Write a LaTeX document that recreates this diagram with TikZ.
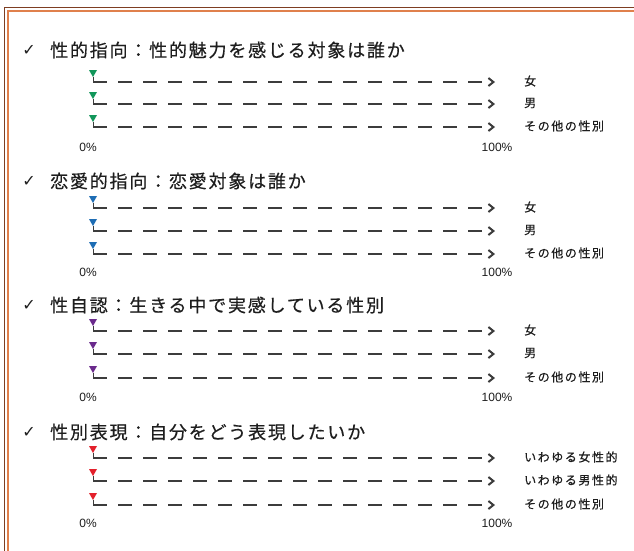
\documentclass[tikz,border=0pt]{standalone}
\usepackage{fontspec}
\usetikzlibrary{arrows.meta}
\setmainfont{Liberation Sans}
\newfontfamily\jphead[LetterSpace=10,FakeBold=0.5]{Noto Sans CJK JP}
\newfontfamily\jplab[LetterSpace=13,FakeBold=0.4]{Noto Sans CJK JP}
\newfontfamily\symf{DejaVu Sans}
\definecolor{ink}{HTML}{1E1E1E}
\definecolor{dashgrey}{HTML}{3C3C3C}
\definecolor{mkgreen}{HTML}{12965A}
\definecolor{mkblue}{HTML}{1E6DB4}
\definecolor{mkpurple}{HTML}{6A2A8C}
\definecolor{mkred}{HTML}{E3202B}
\definecolor{framedark}{HTML}{7E3E22}
\definecolor{frameorange}{HTML}{E0804C}
\begin{document}
\begin{tikzpicture}[x=1pt,y=-1pt,
  heading/.style={anchor=west,inner sep=0pt,text=ink,font=\jphead\fontsize{18}{20}\selectfont},
  checkmark/.style={inner sep=0pt,text=ink,font=\symf\fontsize{16}{18}\selectfont},
  scalelab/.style={inner sep=0pt,text=ink,font=\fontsize{12}{14}\selectfont},
  optlab/.style={anchor=west,inner sep=0pt,text=ink,font=\jplab\fontsize{12}{14}\selectfont},
  dashline/.style={draw=dashgrey,line width=2.4pt,dash pattern=on 14pt off 11pt,
    -{Straight Barb[length=5pt,width=8pt,line width=2pt]}},
  stub/.style={draw=dashgrey,line width=1pt}]
\useasboundingbox (0,0) rectangle (634,550);
\fill[white] (0,0) rectangle (634,550);
\begin{scope}
  \clip (0,0) rectangle (634,550);
  \draw[framedark,line width=1.8pt] (4.5,7.5) rectangle (670,590);
  \draw[frameorange,line width=1.5pt] (8,11) rectangle (670,590);
\end{scope}
\foreach \s/\hy/\title/\col/\ya/\yb/\yc/\yp/\la/\lb in {
  1/50/性的指向：性的魅力を感じる対象は誰か/mkgreen/82/104/127/147/女/男,
  2/181/恋愛的指向：恋愛対象は誰か/mkblue/208/231/254/272/女/男,
  3/305/性自認：生きる中で実感している性別/mkpurple/331/354/378/397/女/男,
  4/432/性別表現：自分をどう表現したいか/mkred/458/481/505/523/いわゆる女性的/いわゆる男性的}{
  \node[checkmark] (c\s) at (29,\hy) {✓};
  \node[heading] (h\s) at (50,\hy) {\title};
  \foreach \r/\yy/\lab in {1/\ya/\la, 2/\yb/\lb, 3/\yc/その他の性別}{
    \coordinate (s\s-\r) at (93,\yy);
    \coordinate (e\s-\r) at (495,\yy);
    \node[optlab] (l\s-\r) at (524,\yy-1) {\lab};
    \draw[dashline] (s\s-\r) -- (e\s-\r);
    \draw[stub] (93,\yy-5) -- (s\s-\r);
    \fill[\col] (89,\yy-12) -- (97,\yy-12) -- (93,\yy-5) -- cycle;
  }
  \node[scalelab] (z\s) at (88,\yp) {0\%};
  \node[scalelab] (f\s) at (497,\yp) {100\%};
}
\end{tikzpicture}
\end{document}
